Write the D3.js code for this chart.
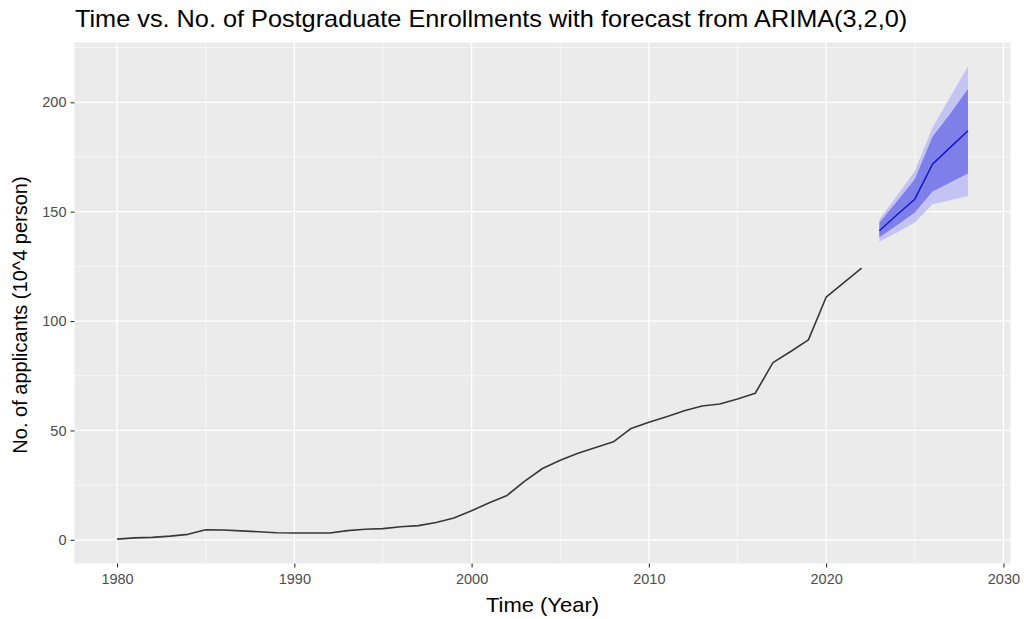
<!DOCTYPE html>
<html><head><meta charset="utf-8">
<script src="https://cdn.jsdelivr.net/npm/d3@7"></script>
<style>body{margin:0;background:#fff;} svg{display:block;}</style>
</head><body>
<svg id="chart" width="1024" height="619"></svg>
<script>
// Historical data (10^4 persons)
const years = d3.range(1980, 2023);
const applicants = [0.3, 0.9, 1.1, 1.7, 2.5, 4.6, 4.5, 4.1, 3.7, 3.2, 3.1, 3.1, 3.1, 4.2, 4.8, 5.1, 6.0, 6.5, 7.9, 10.0,
  13.3, 16.9, 20.3, 26.8, 32.6, 36.4, 39.6, 42.2, 44.8, 50.9, 53.7, 56.3, 59.0, 61.2, 62.1, 64.4, 67.0,
  81.0, 86.1, 91.4, 110.9, 117.6, 124.2];
// Forecast from ARIMA(3,2,0)
const fYears = [2023, 2024, 2025, 2026, 2027, 2028];
const fMean = [141.3, 148.6, 155.7, 171.7, 179.4, 187.0];
const lo80 = [138.3, 143.8, 149.6, 159.2, 163.3, 167.4];
const hi80 = [144.9, 154.8, 164.8, 184.2, 194.8, 206.1];
const lo95 = [136.2, 140.5, 145.0, 153.4, 155.2, 157.2];
const hi95 = [146.4, 157.4, 168.6, 188.5, 202.4, 216.5];
const xTicks = [1980, 1990, 2000, 2010, 2020, 2030];
const yTicks = [0, 50, 100, 150, 200];

const svg = d3.select("#chart");
const m = {left: 74.5, right: 1010.5, top: 42.5, bottom: 563.5};

const xMin = 1980, xMax = 2028;
const xPad = (xMax - xMin) * 0.05;
const x = d3.scaleLinear().domain([xMin - xPad, xMax + xPad]).range([m.left, m.right]);
const yMinV = 0, yMaxV = d3.max(hi95);
const yPad = (yMaxV - yMinV) * 0.05;
const y = d3.scaleLinear().domain([yMinV - yPad, yMaxV + yPad]).range([m.bottom, m.top]);

// panel
svg.append("rect").attr("x", m.left).attr("y", m.top)
  .attr("width", m.right - m.left).attr("height", m.bottom - m.top).attr("fill", "#EBEBEB");

const g = svg.append("g");
// minor gridlines
const xMinor = [1985, 1995, 2005, 2015, 2025];
const yMinor = [25, 75, 125, 175, 225];
g.selectAll(".xm").data(xMinor).join("line")
  .attr("x1", d => x(d)).attr("x2", d => x(d)).attr("y1", m.top).attr("y2", m.bottom)
  .attr("stroke", "#fff").attr("stroke-width", 0.6);
g.selectAll(".ym").data(yMinor).join("line")
  .attr("x1", m.left).attr("x2", m.right).attr("y1", d => y(d)).attr("y2", d => y(d))
  .attr("stroke", "#fff").attr("stroke-width", 0.6);
// major gridlines
g.selectAll(".xM").data(xTicks).join("line")
  .attr("x1", d => x(d)).attr("x2", d => x(d)).attr("y1", m.top).attr("y2", m.bottom)
  .attr("stroke", "#fff").attr("stroke-width", 1.3);
g.selectAll(".yM").data(yTicks).join("line")
  .attr("x1", m.left).attr("x2", m.right).attr("y1", d => y(d)).attr("y2", d => y(d))
  .attr("stroke", "#fff").attr("stroke-width", 1.3);

// forecast bands
const area = (lo, hi) => d3.area().x((d, i) => x(fYears[i])).y0((d, i) => y(lo[i])).y1((d, i) => y(hi[i]));
svg.append("path").datum(fYears).attr("d", area(lo95, hi95)).attr("fill", "#C4C4F4");
svg.append("path").datum(fYears).attr("d", area(lo80, hi80)).attr("fill", "#7F7FEA");
svg.append("path").datum(fYears)
  .attr("d", d3.line().x((d, i) => x(fYears[i])).y((d, i) => y(fMean[i])))
  .attr("fill", "none").attr("stroke", "#1515D0").attr("stroke-width", 1.5);

// historical line
svg.append("path").datum(years)
  .attr("d", d3.line().x((d, i) => x(years[i])).y((d, i) => y(applicants[i])))
  .attr("fill", "none").attr("stroke", "#383838").attr("stroke-width", 1.6)
  .attr("stroke-linejoin", "round");

// axes
const font = "'Liberation Sans', Arial, sans-serif";
const xAxis = d3.axisBottom(x).tickValues(xTicks).tickFormat(d3.format("d")).tickSize(4).tickPadding(6);
const gx = svg.append("g").attr("transform", `translate(0,${m.bottom})`).call(xAxis);
const yAxis = d3.axisLeft(y).tickValues(yTicks).tickSize(4).tickPadding(4);
const gy = svg.append("g").attr("transform", `translate(${m.left},0)`).call(yAxis);
[gx, gy].forEach(a => {
  a.select(".domain").remove();
  a.selectAll(".tick line").attr("stroke", "#333").attr("stroke-width", 1.1);
  a.selectAll(".tick text").attr("fill", "#4D4D4D").style("font-family", font).style("font-size", "14.5px");
});

// titles
svg.append("text").attr("transform", "translate(75,27) scale(1.1,1)")
  .style("font-family", font).style("font-size", "23px").attr("fill", "#000")
  .text("Time vs. No. of Postgraduate Enrollments with forecast from ARIMA(3,2,0)");
svg.append("text").attr("transform", `translate(${(m.left + m.right) / 2},612) scale(1.1,1)`)
  .attr("text-anchor", "middle")
  .style("font-family", font).style("font-size", "20px").attr("fill", "#000")
  .text("Time (Year)");
svg.append("text").attr("transform", `translate(27,${(m.top + m.bottom) / 2 + 12}) rotate(-90)`)
  .attr("text-anchor", "middle")
  .style("font-family", font).style("font-size", "20px").attr("fill", "#000")
  .text("No. of applicants (10^4 person)");
</script>
</body></html>
